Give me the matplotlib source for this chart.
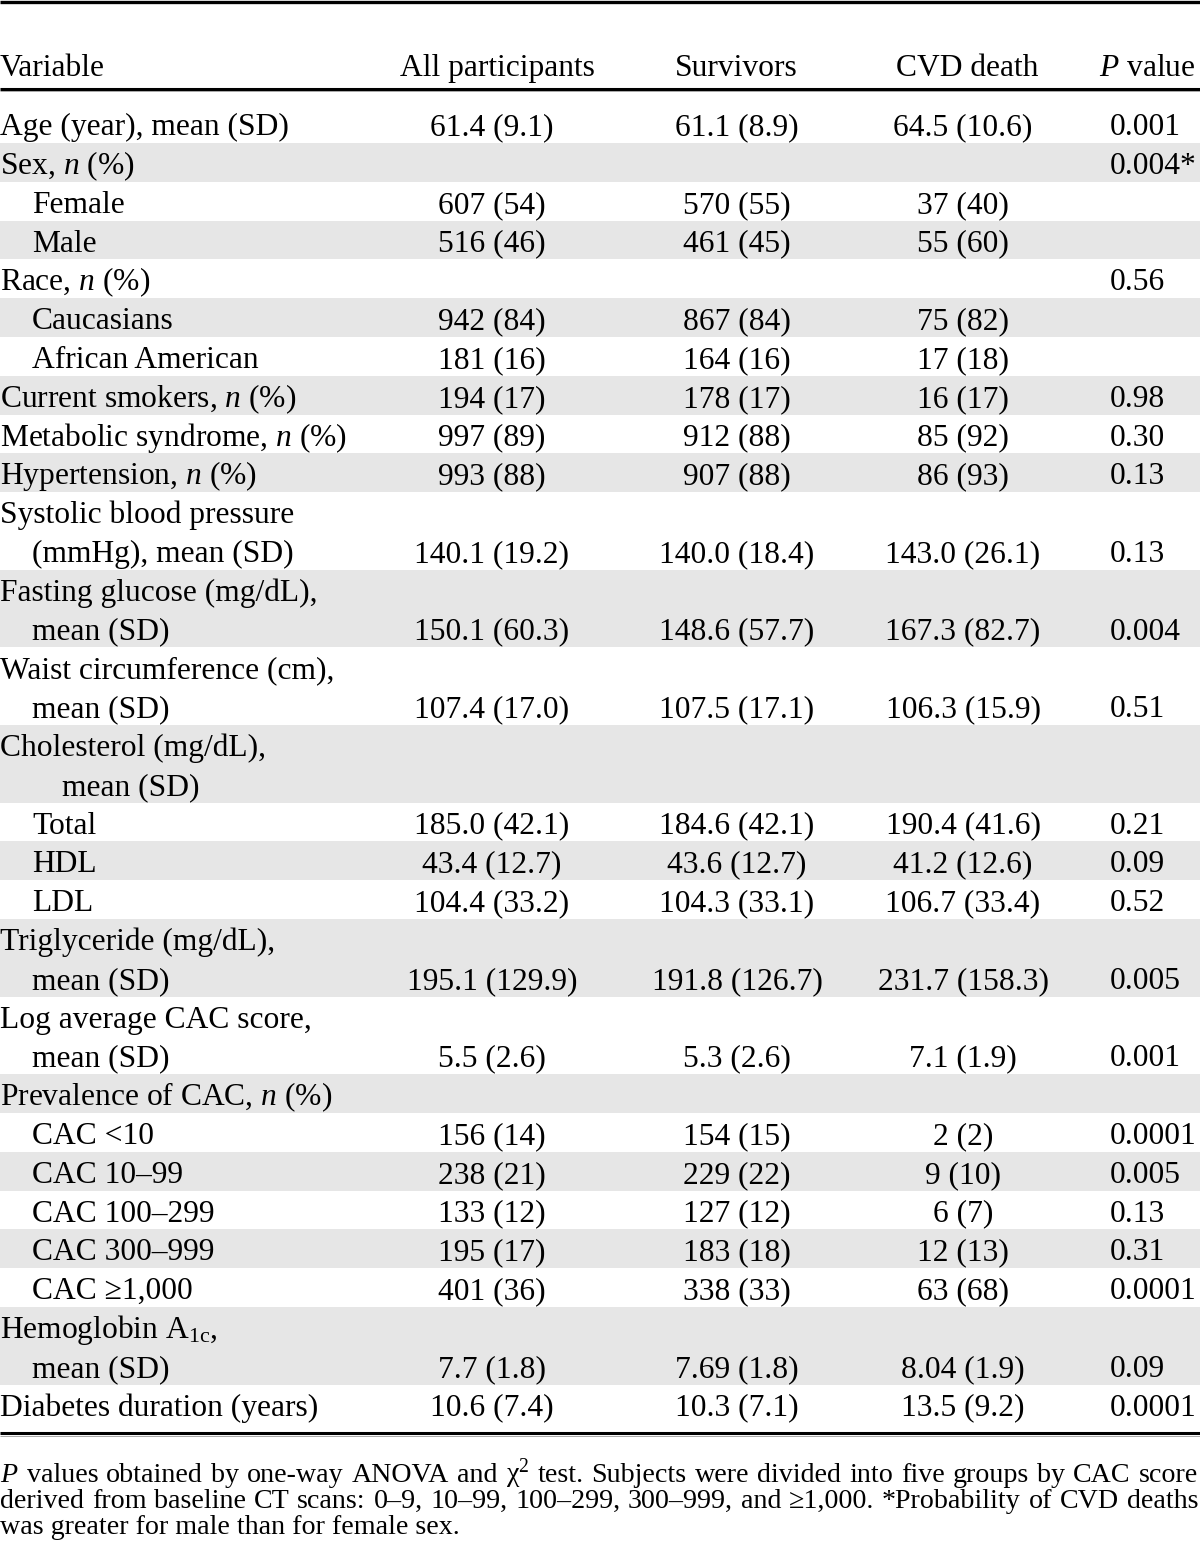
import matplotlib
matplotlib.use("Agg")
import matplotlib.pyplot as plt

plt.rcParams['font.family'] = ['Liberation Serif', 'DejaVu Serif']
plt.rcParams['mathtext.fontset'] = 'custom'
plt.rcParams['mathtext.rm'] = 'Liberation Serif'
plt.rcParams['mathtext.it'] = 'Liberation Serif:italic'

# table content
headers = ["Variable", "All participants", "Survivors", "CVD death", "$P$ value"]

variables = [
    ["Age (year), mean (SD)"],
    ["Sex, $n$ (%)"],
    ["Female"],
    ["Male"],
    ["Race, $n$ (%)"],
    ["Caucasians"],
    ["African American"],
    ["Current smokers, $n$ (%)"],
    ["Metabolic syndrome, $n$ (%)"],
    ["Hypertension, $n$ (%)"],
    ["Systolic blood pressure", "(mmHg), mean (SD)"],
    ["Fasting glucose (mg/dL),", "mean (SD)"],
    ["Waist circumference (cm),", "mean (SD)"],
    ["Cholesterol (mg/dL),", "mean (SD)"],
    ["Total"],
    ["HDL"],
    ["LDL"],
    ["Triglyceride (mg/dL),", "mean (SD)"],
    ["Log average CAC score,", "mean (SD)"],
    ["Prevalence of CAC, $n$ (%)"],
    ["CAC <10"],
    ["CAC 10\u201399"],
    ["CAC 100\u2013299"],
    ["CAC 300\u2013999"],
    ["CAC \u22651,000"],
    ["Hemoglobin A$_{\\mathrm{1c}}$,", "mean (SD)"],
    ["Diabetes duration (years)"],
]

# indentation level of each text line of the variable labels
indents = [
    [0], [0], [1], [1], [0], [1], [1], [0], [0], [0],
    [0, 1], [0, 1], [0, 1], [0, 2], [1], [1], [1], [0, 1], [0, 1],
    [0], [1], [1], [1], [1], [1], [0, 1], [0],
]

all_participants = [
    "61.4 (9.1)", "", "607 (54)", "516 (46)", "", "942 (84)", "181 (16)",
    "194 (17)", "997 (89)", "993 (88)", "140.1 (19.2)", "150.1 (60.3)",
    "107.4 (17.0)", "", "185.0 (42.1)", "43.4 (12.7)", "104.4 (33.2)",
    "195.1 (129.9)", "5.5 (2.6)", "", "156 (14)", "238 (21)", "133 (12)",
    "195 (17)", "401 (36)", "7.7 (1.8)", "10.6 (7.4)",
]
survivors = [
    "61.1 (8.9)", "", "570 (55)", "461 (45)", "", "867 (84)", "164 (16)",
    "178 (17)", "912 (88)", "907 (88)", "140.0 (18.4)", "148.6 (57.7)",
    "107.5 (17.1)", "", "184.6 (42.1)", "43.6 (12.7)", "104.3 (33.1)",
    "191.8 (126.7)", "5.3 (2.6)", "", "154 (15)", "229 (22)", "127 (12)",
    "183 (18)", "338 (33)", "7.69 (1.8)", "10.3 (7.1)",
]
cvd_death = [
    "64.5 (10.6)", "", "37 (40)", "55 (60)", "", "75 (82)", "17 (18)",
    "16 (17)", "85 (92)", "86 (93)", "143.0 (26.1)", "167.3 (82.7)",
    "106.3 (15.9)", "", "190.4 (41.6)", "41.2 (12.6)", "106.7 (33.4)",
    "231.7 (158.3)", "7.1 (1.9)", "", "2 (2)", "9 (10)", "6 (7)",
    "12 (13)", "63 (68)", "8.04 (1.9)", "13.5 (9.2)",
]
p_values = [
    "0.001", "0.004*", "", "", "0.56", "", "", "0.98", "0.30", "0.13",
    "0.13", "0.004", "0.51", "", "0.21", "0.09", "0.52", "0.005", "0.001",
    "", "0.0001", "0.005", "0.13", "0.31", "0.0001", "0.09", "0.0001",
]

footnote = [
    "$P$ values obtained by one-way ANOVA and \u03c7$^2$ test. Subjects were divided into five groups by CAC score",
    "derived from baseline CT scans: 0\u20139, 10\u201399, 100\u2013299, 300\u2013999, and \u22651,000. *Probability of CVD deaths",
    "was greater for male than for female sex.",
]

# layout (pixels)
W, H = 1200, 1546
fs = 22.7
row_h = 38.8
top0 = 104.2
col_centers = [492, 737, 963]
p_left = 1110
indent_px = [0, 32, 62]
shade = '#e6e6e6'

fig = plt.figure(figsize=(W / 100, H / 100), dpi=100)
ax = fig.add_axes([0, 0, 1, 1])
ax.set_xlim(0, W)
ax.set_ylim(H, 0)
ax.axis('off')

# rules
ax.plot([0, W], [2, 2], color='black', lw=2.4, solid_capstyle='butt')
ax.plot([0, W], [88.5, 88.5], color='black', lw=2.2, solid_capstyle='butt')
ax.plot([0, W], [91, 91], color='#999999', lw=0.6, solid_capstyle='butt')
ax.plot([0, W], [1433, 1433], color='black', lw=2.2, solid_capstyle='butt')
ax.plot([0, W], [1435.5, 1435.5], color='#999999', lw=0.6, solid_capstyle='butt')

# header
hb = 76
ax.text(0, hb, headers[0], fontsize=fs, ha='left', va='baseline')
hx = [497, 736, 967]
for x, h in zip(hx, headers[1:4]):
    ax.text(x, hb, h, fontsize=fs, ha='center', va='baseline')
ax.text(1099, hb, headers[4], fontsize=fs, ha='left', va='baseline')

# body
slot = 0
for i, lines in enumerate(variables):
    n = len(lines)
    top = top0 + slot * row_h
    if i % 2 == 1:
        ax.axhspan(top, top + n * row_h, color=shade, lw=0, zorder=0)
    for k, (txt, ind) in enumerate(zip(lines, indents[i])):
        ax.text(indent_px[ind], top + k * row_h + 31, txt, fontsize=fs,
                ha='left', va='baseline')
    base = top + (n - 1) * row_h + 31
    for x, col in zip(col_centers, [all_participants, survivors, cvd_death]):
        ax.text(x, base, col[i], fontsize=fs, ha='center', va='baseline')
    ax.text(p_left, base, p_values[i], fontsize=fs, ha='left', va='baseline')
    slot += n

# footnote, justified; size chosen so the longest line nearly fills the width
renderer = fig.canvas.get_renderer()
probe = [ax.text(0, 0, l, fontsize=20) for l in footnote[:2]]
natural = max(p.get_window_extent(renderer).width for p in probe)
for p in probe:
    p.remove()
ffs = 20 * 1185 / natural

fb = [1482, 1508, 1534]
for j, line in enumerate(footnote):
    words = line.split(' ')
    if j == len(footnote) - 1:
        ax.text(0, fb[j], line, fontsize=ffs, ha='left', va='baseline')
        continue
    arts = [ax.text(0, fb[j], w, fontsize=ffs, ha='left', va='baseline') for w in words]
    widths = [a.get_window_extent(renderer).width for a in arts]
    gap = (W - 2 - sum(widths)) / (len(words) - 1)
    x = 0
    for a, w in zip(arts, widths):
        a.set_x(x)
        x += w + gap

fig.savefig('out.png', dpi=100)
